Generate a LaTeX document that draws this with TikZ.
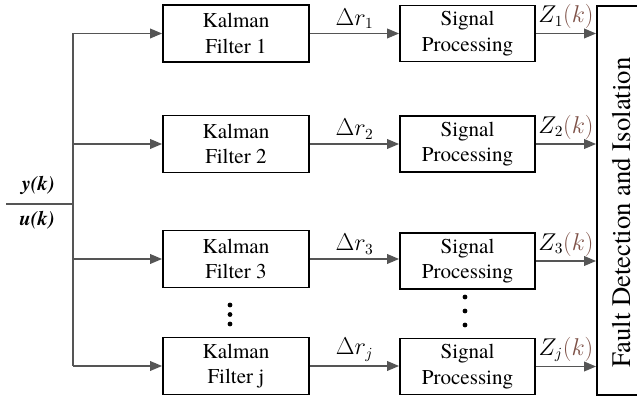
\documentclass[tikz,border=0pt]{standalone}
\usepackage{fontspec}
\setmainfont{texgyretermes}[Extension=.otf,UprightFont=*-regular,BoldFont=*-bold,ItalicFont=*-italic,BoldItalicFont=*-bolditalic]
\usetikzlibrary{arrows.meta}
\definecolor{zbrown}{RGB}{125,80,70}
\definecolor{wiregray}{RGB}{85,85,85}
\tikzset{
  block/.style={draw=black,line width=1.4pt,align=center,inner sep=0pt,font=\fontsize{15}{18}\selectfont},
  kfbox/.style={block,minimum width=3.65cm,minimum height=1.425cm},
  spbox/.style={block,minimum width=3.375cm,minimum height=1.4cm},
  wire/.style={draw=wiregray,line width=0.8pt},
  sig/.style={font=\fontsize{16}{18}\selectfont,inner sep=3pt},
  io/.style={font=\fontsize{14.5}{18}\selectfont\bfseries\itshape,inner sep=0pt,anchor=east},
}
\begin{document}
\begin{tikzpicture}[x=0.025cm,y=-0.025cm,>={Triangle[length=8.5pt,width=7pt]}]
	\useasboundingbox (0,0) rectangle (637,398);
	% kalman filters
	\node[kfbox] (kf1) at (236,33.5) {Kalman\\Filter 1};
	\node[kfbox] (kf2) at (236,144) {Kalman\\Filter 2};
	\node[kfbox] (kf3) at (236,259) {Kalman\\Filter 3};
	\node[kfbox] (kf4) at (236,366) {Kalman\\Filter j};
	% signal processing
	\node[spbox] (sp1) at (467.5,33.5) {Signal\\Processing};
	\node[spbox] (sp2) at (467.5,144) {Signal\\Processing};
	\node[spbox] (sp3) at (467.5,261) {Signal\\Processing};
	\node[spbox] (sp4) at (467.5,366.5) {Signal\\Processing};
	% fault detection
	\node[block,rotate=90,minimum width=9.725cm,minimum height=1.2cm,font=\fontsize{19}{22}\selectfont] (fdi) at (621,200.5) {Fault Detection and Isolation\kern0.6cm};
	% inputs
	\coordinate (in) at (6,204);
	\coordinate (bus) at (73,204);
	\node[io] (yk) at (55,185) {y(k)};
	\node[io] (uk) at (55,220) {u(k)};
	\draw[wire] (in) -- (bus);
	\draw[wire] (kf1.west -| bus) -- (kf4.west -| bus);
	\foreach \i/\n in {1/1,2/2,3/3,4/j} {
		\draw[wire,->] (kf\i.west -| bus) -- (kf\i.west);
		\draw[wire,->] (kf\i.east) -- node[sig,above] {$\Delta r_{\n}$} (kf\i.east -| sp\i.west);
		\draw[wire,->] (sp\i.east) -- node[sig,above] {$Z_{\n}\textcolor{zbrown}{(k)}$} (sp\i.east -| fdi.north);
	}
	% dots
	\foreach \y in {305,314.5,324} \fill (230,\y) circle (1.7pt);
	\foreach \y in {297,311,325} \fill (465,\y) circle (1.7pt);
\end{tikzpicture}
\end{document}
